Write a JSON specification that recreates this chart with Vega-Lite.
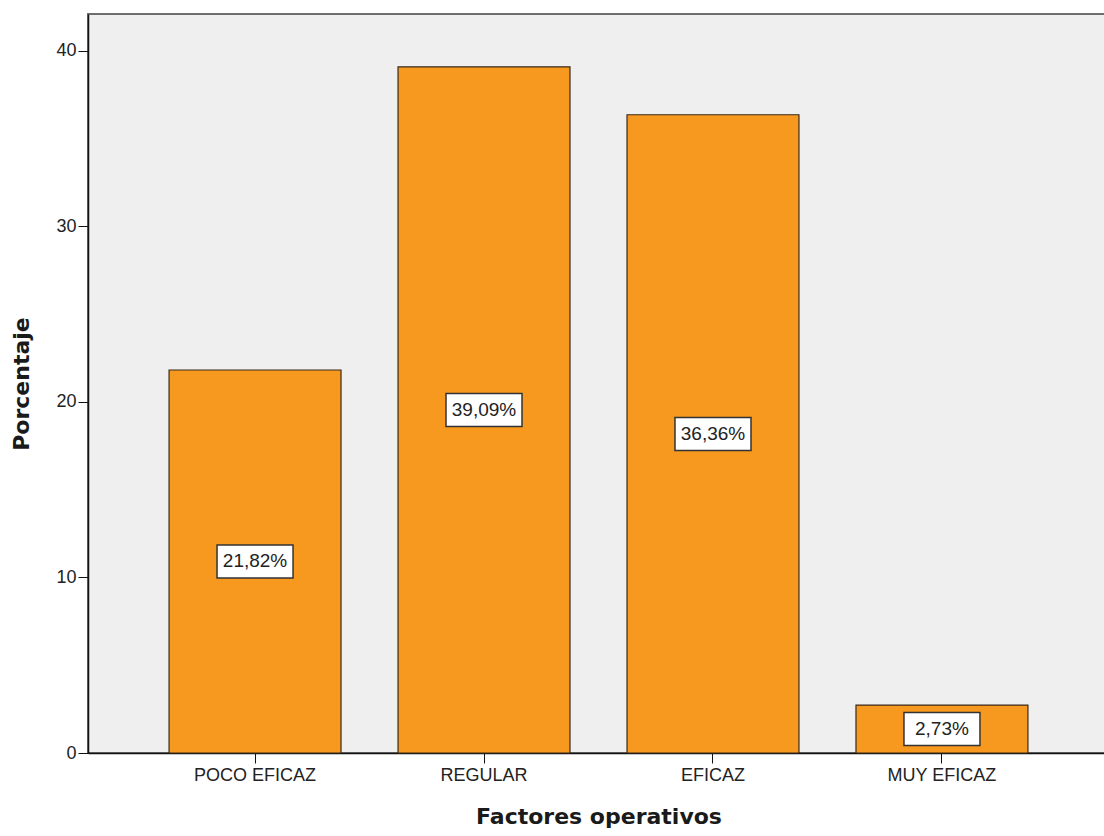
{
  "$schema": "https://vega.github.io/schema/vega-lite/v6.json",
  "autosize": {"type": "none"},
  "padding": {"left": 88, "top": 14, "right": 0, "bottom": 83},
  "width": 1021,
  "height": 739,
  "background": "white",
  "config": {
    "font": "Liberation Sans",
    "view": {"fill": "#efefef", "stroke": "#6e6e6e", "strokeWidth": 2}
  },
  "data": {
    "values": [
      {"categoria": "POCO EFICAZ", "porcentaje": 21.82, "etiqueta": "21,82%"},
      {"categoria": "REGULAR", "porcentaje": 39.09, "etiqueta": "39,09%"},
      {"categoria": "EFICAZ", "porcentaje": 36.36, "etiqueta": "36,36%"},
      {"categoria": "MUY EFICAZ", "porcentaje": 2.73, "etiqueta": "2,73%"}
    ]
  },
  "transform": [{"calculate": "datum.porcentaje / 2", "as": "medio"}],
  "encoding": {
    "x": {
      "field": "categoria",
      "type": "nominal",
      "sort": null,
      "scale": {"paddingInner": 0.249, "paddingOuter": 0.354},
      "axis": {
        "title": "Factores operativos",
        "titleFont": "DejaVu Sans",
        "titleFontSize": 22,
        "titleFontWeight": "bold",
        "titleColor": "#1a1a1a",
        "titlePadding": 22,
        "labelAngle": 0,
        "labelFontSize": 18,
        "labelColor": "#222",
        "labelPadding": 3,
        "tickSize": 10,
        "tickColor": "#111",
        "domainColor": "#111",
        "domainWidth": 1.5
      }
    }
  },
  "layer": [
    {
      "mark": {"type": "bar", "fill": "#f7991f", "stroke": "#3a2a1a", "strokeWidth": 1.2},
      "encoding": {
        "y": {
          "field": "porcentaje",
          "type": "quantitative",
          "scale": {"domain": [0, 42.1], "nice": false},
          "axis": {
            "title": "Porcentaje",
            "titleFont": "DejaVu Sans",
            "titleFontSize": 22,
            "titleFontWeight": "bold",
            "titleColor": "#1a1a1a",
            "titlePadding": 22,
            "values": [0, 10, 20, 30, 40],
            "grid": false,
            "labelFontSize": 18,
            "labelColor": "#222",
            "labelPadding": 2,
            "tickSize": 10,
            "tickColor": "#111",
            "domainColor": "#111",
            "domainWidth": 1.5
          }
        }
      }
    },
    {
      "mark": {"type": "rect", "width": 76, "height": 33, "fill": "white", "stroke": "#333", "strokeWidth": 1.5},
      "encoding": {
        "y": {"field": "medio", "type": "quantitative"}
      }
    },
    {
      "mark": {"type": "text", "fontSize": 19, "color": "#222", "baseline": "middle", "align": "center"},
      "encoding": {
        "y": {"field": "medio", "type": "quantitative"},
        "text": {"field": "etiqueta"}
      }
    }
  ]
}
